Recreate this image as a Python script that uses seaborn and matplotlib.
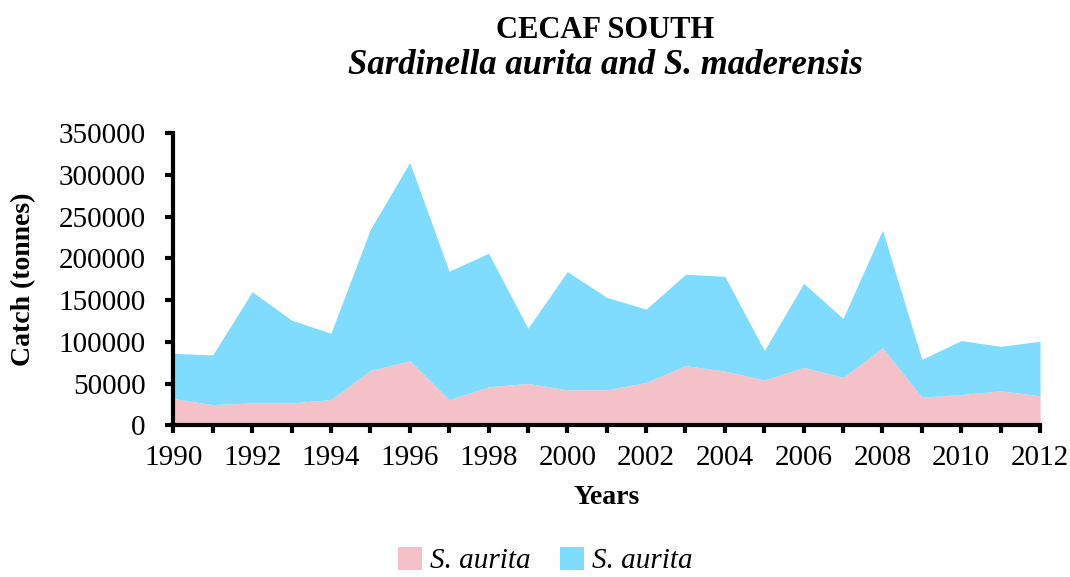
import pandas as pd
import matplotlib
matplotlib.use("Agg")
import matplotlib.pyplot as plt
import seaborn as sns

# Catch data (tonnes)
years = list(range(1990, 2013))
aurita_low = [32000, 24800, 26800, 26800, 30800, 65700, 77400, 30800, 46100, 50100,
              42500, 42500, 51300, 71400, 65000, 54200, 69400, 57300, 92700, 33700,
              36800, 41300, 35300]
total = [86200, 84300, 160100, 126000, 110300, 234800, 315000, 184600, 206200, 116300,
         184200, 153300, 139200, 181000, 178500, 89500, 170100, 128000, 233900, 79000,
         101500, 94600, 100700]
aurita_top = [t - a for t, a in zip(total, aurita_low)]
series_labels = ["S. aurita", "S. aurita"]
colors = ["#F5C1C9", "#7FDCFE"]

df = pd.DataFrame({"Year": years, "low": aurita_low, "top": aurita_top})

sns.set_theme(style="ticks")
plt.rcParams["font.family"] = ["Liberation Serif", "DejaVu Serif"]
plt.rcParams["text.color"] = "black"
plt.rcParams["axes.labelcolor"] = "black"

fig = plt.figure(figsize=(10.7, 5.77), dpi=100)
ax = fig.add_axes([0.162, 0.263, 0.81, 0.506])

ax.stackplot(df["Year"], df["low"], df["top"], colors=colors,
             labels=series_labels, linewidth=0)

ax.set_xlim(1990, 2012)
ax.set_ylim(0, 350000)
ax.set_xticks(range(1990, 2013, 2))
ax.set_xticks(range(1990, 2013), minor=True)
ax.set_yticks(range(0, 350001, 50000))
ax.tick_params(axis="both", which="both", labelsize=21, colors="black",
               width=3, length=6, direction="out")
ax.tick_params(axis="x", pad=8)
ax.tick_params(axis="y", pad=14)
sns.despine(ax=ax)
for side in ["left", "bottom"]:
    ax.spines[side].set_linewidth(3)
    ax.spines[side].set_color("black")

ax.set_xlabel("Years", fontsize=20, fontweight="bold", labelpad=10)
ax.set_ylabel("Catch (tonnes)", fontsize=20, fontweight="bold", labelpad=16)

fig.text(0.566, 0.948, "CECAF SOUTH", ha="center", va="center",
         fontsize=22, fontweight="bold")
fig.text(0.566, 0.887, "Sardinella aurita and S. maderensis", ha="center",
         va="center", fontsize=25, fontweight="bold", style="italic")

leg = fig.legend(loc="center", bbox_to_anchor=(0.51, 0.028), ncol=2, frameon=False,
                 prop={"size": 21, "style": "italic"}, handlelength=0.8,
                 handleheight=0.8, handletextpad=0.3, columnspacing=1.0)

fig.savefig("out.png", dpi=100)
